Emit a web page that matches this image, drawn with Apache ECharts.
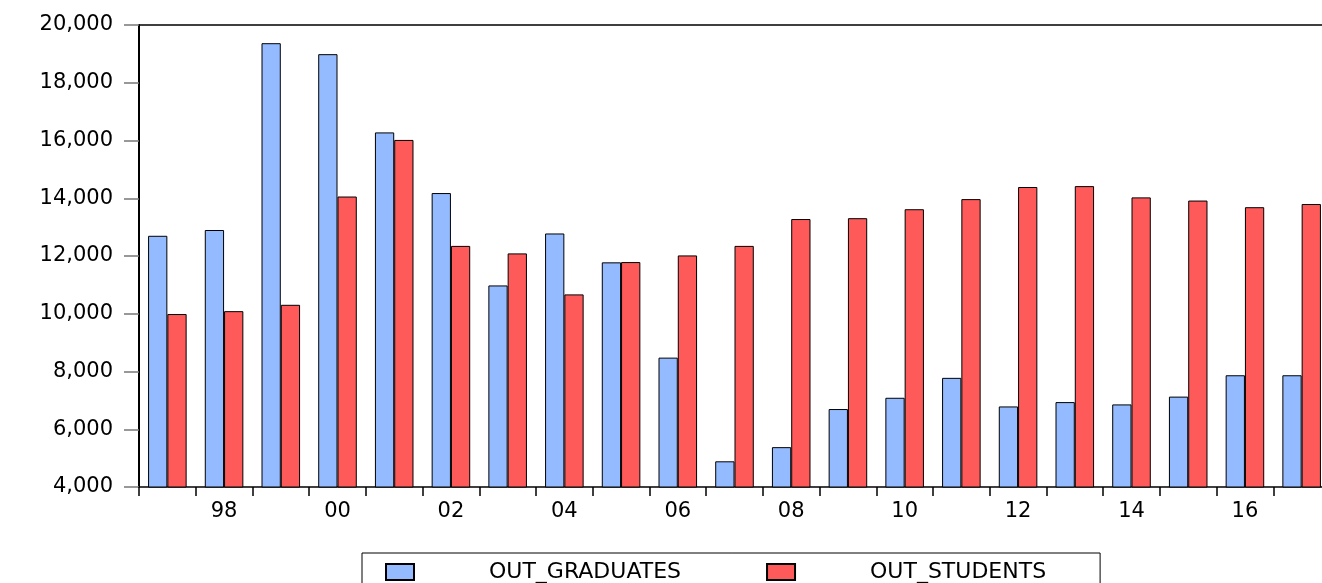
<!DOCTYPE html>
<html>
<head>
<meta charset="utf-8">
<script src="https://cdn.jsdelivr.net/npm/echarts@6/dist/echarts.min.js"></script>
<style>
html,body{margin:0;padding:0;background:#fff;}
#chart{width:1322px;height:583px;}
</style>
</head>
<body>
<div id="chart"></div>
<script>
const years = ['97','98','99','00','01','02','03','04','05','06','07','08','09','10','11','12','13','14','15','16','17'];
const outGraduates = [12700, 12900, 19370, 18990, 16280, 14180, 10980, 12780, 11780, 8480, 4890, 5380, 6700, 7090, 7780, 6790, 6940, 6860, 7130, 7870, 7870];
const outStudents = [9990, 10090, 10310, 14060, 16020, 12350, 12090, 10670, 11790, 12020, 12350, 13280, 13310, 13620, 13970, 14390, 14420, 14030, 13920, 13690, 13800];
const seriesNames = ['OUT_GRADUATES', 'OUT_STUDENTS'];
const yMin = 4000, yMax = 20000, yStep = 2000;

const FONT = 'DejaVu Sans';
const chart = echarts.init(document.getElementById('chart'), null, {renderer: 'canvas'});
chart.setOption({
  animation: false,
  backgroundColor: '#fff',
  grid: {left: 139, width: 1191, top: 25, bottom: 96, containLabel: false, outerBoundsMode: 'none'},
  legend: {
    data: seriesNames,
    left: 362,
    top: 553,
    orient: 'horizontal',
    itemWidth: 28,
    itemHeight: 16,
    itemGap: 85,
    padding: [8, 54, 10, 23],
    borderColor: '#000',
    borderWidth: 1,
    icon: 'rect',
    textStyle: {fontFamily: FONT, fontSize: 22, color: '#000', padding: [0, 0, 0, 70]}
  },
  xAxis: [{
    type: 'category',
    data: years,
    position: 'bottom',
    boundaryGap: true,
    axisLine: {show: true, lineStyle: {color: '#000', width: 1.5}},
    axisTick: {show: true, interval: 0, length: 9, lineStyle: {color: '#000', width: 1.5}},
    axisLabel: {
      interval: function (i) { return i % 2 === 1; },
      margin: 14,
      fontFamily: FONT, fontSize: 21, color: '#000'
    },
    splitLine: {show: false}
  }, {
    type: 'category',
    data: years,
    position: 'top',
    axisLine: {show: true, lineStyle: {color: '#000', width: 1.5}},
    axisTick: {show: false},
    axisLabel: {show: false}
  }],
  yAxis: {
    type: 'value',
    min: yMin, max: yMax, interval: yStep,
    axisLine: {show: true, lineStyle: {color: '#000', width: 2}},
    axisTick: {show: true, length: 15, lineStyle: {color: '#777', width: 1.5}},
    axisLabel: {
      margin: 26,
      fontFamily: FONT, fontSize: 21, color: '#000',
      formatter: function (v) { return v.toLocaleString('en-US'); }
    },
    splitLine: {show: false}
  },
  series: [{
    name: seriesNames[0],
    type: 'bar',
    data: outGraduates,
    barGap: '0%',
    barCategoryGap: '32%',
    itemStyle: {color: '#94BBFF', borderColor: '#000', borderWidth: 1}
  }, {
    name: seriesNames[1],
    type: 'bar',
    data: outStudents,
    barGap: '0%',
    barCategoryGap: '32%',
    itemStyle: {color: '#FF5A5A', borderColor: '#000', borderWidth: 1}
  }]
});
</script>
</body>
</html>
